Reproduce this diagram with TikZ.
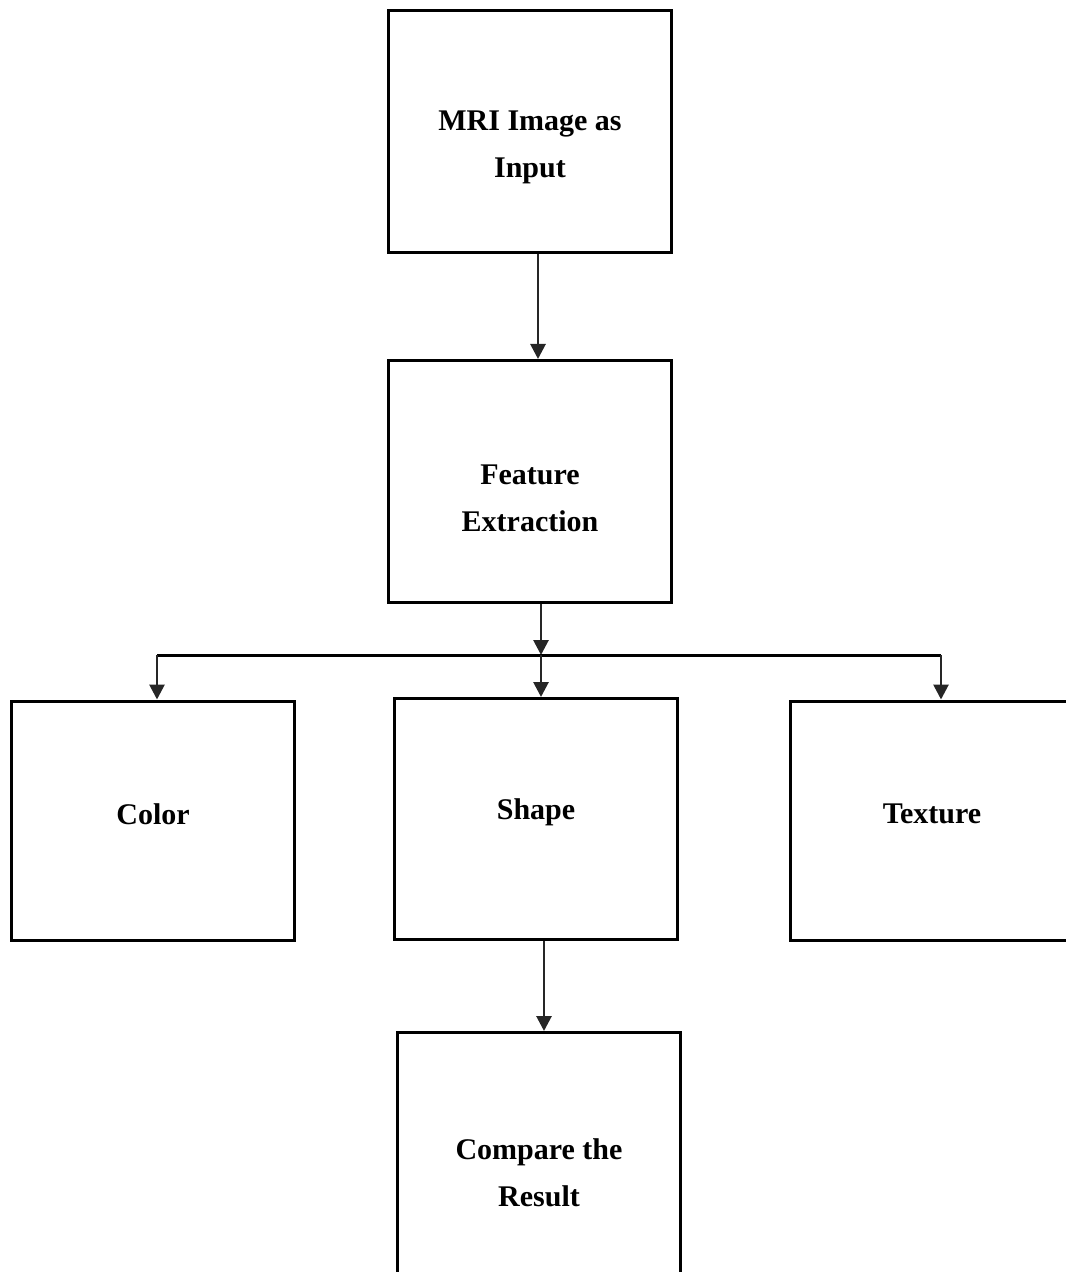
\documentclass[tikz,border=0pt]{standalone}
\usepackage{fontspec}
\setmainfont{Liberation Serif}
\usetikzlibrary{arrows.meta,positioning,calc}
\tikzset{
  box/.style ={draw=black,line width=1.5pt,fill=white,minimum width=141.5pt,
               minimum height=121pt,inner sep=0pt},
  lbl/.style ={align=center,font=\fontsize{15}{23.5}\selectfont\bfseries,inner sep=0pt},
  sig/.style ={-{Triangle[length=7.5pt,width=7.5pt]},draw=black!85,line width=1.4pt},
  bus/.style ={draw=black,line width=1.5pt},
}
\begin{document}
\begin{tikzpicture}[x=0.5pt,y=0.5pt]
\useasboundingbox (0,0) rectangle (1065,-1272);

\node[box]                    (mri)  at (530,-131.5)  {};
\node[lbl] (mriT) at ([yshift=-8pt]mri.center) {MRI Image as\\Input};

\node[box]                    (feat) at (530,-481.5)  {};
\node[lbl] (featT) at ([yshift=-8.5pt]feat.center) {Feature\\Extraction};
\draw[sig] ([xshift=4pt]mri.south) -- ([xshift=4pt]feat.north);

% the three features below one bus
\node[box,minimum height=119.5pt] (color)   at (153,-820.5) {};
\node[box,minimum height=120.5pt] (shape)   at (536,-819)   {};
\node[box,minimum height=119.5pt] (texture) at (932,-820.5) {};
\node[lbl] (colorT)   at ([yshift=3pt]color.center)     {Color};
\node[lbl] (shapeT)   at ([yshift=3.2pt]shape.center)   {Shape};
\node[lbl] (textureT) at ([yshift=3.4pt]texture.center) {Texture};

\coordinate (bus) at (541,-655);
\draw[sig] ([xshift=5.5pt]feat.south) -- (bus);
\draw[bus] ([xshift=2pt]color.north |- bus) -- ([xshift=4.5pt]texture.north |- bus);
\draw[sig] ([xshift=2pt]color.north |- bus) -- ([xshift=2pt]color.north);
\draw[sig] (bus) -- ([xshift=2.5pt]shape.north);
\draw[sig] ([xshift=4.5pt]texture.north |- bus) -- ([xshift=4.5pt]texture.north);

% result
\node[box]                    (cmp)  at (539,-1153.5) {};
\node[lbl] (cmpT) at ([yshift=-9.5pt]cmp.center) {Compare the\\Result};
\draw[sig] ([xshift=4pt]shape.south) -- ([xshift=4pt]shape.south |- cmp.north);
\end{tikzpicture}
\end{document}
